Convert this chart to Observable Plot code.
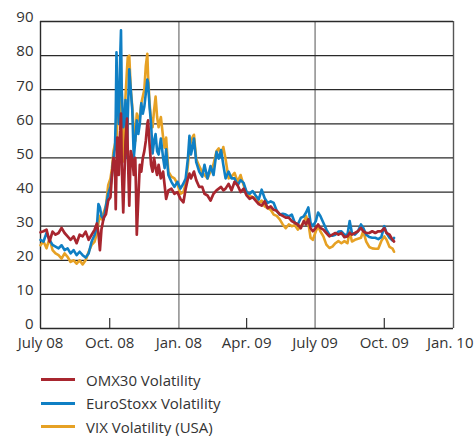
<!DOCTYPE html>
<html><head><meta charset="utf-8">
<script src="https://cdn.jsdelivr.net/npm/d3@7"></script>
<script src="https://cdn.jsdelivr.net/npm/@observablehq/plot@0.6"></script>
<style>
body{margin:0;background:#fff;font-family:"Open Sans",sans-serif;color:#333}
#legend{padding-top:16px}
.row{display:flex;align-items:center;height:23.5px;font-size:15px;color:#333}
.sw{width:34px;height:3px;margin-left:41px;margin-right:11px}
</style></head><body>
<div id="chart"></div><div id="legend"></div>
<script>
const dates = [
"2008-07-01","2008-07-05","2008-07-09","2008-07-13","2008-07-17","2008-07-21","2008-07-25","2008-07-29",
"2008-08-02","2008-08-06","2008-08-10","2008-08-14","2008-08-18","2008-08-22","2008-08-26","2008-08-30",
"2008-09-03","2008-09-07","2008-09-11","2008-09-14","2008-09-16","2008-09-18","2008-09-20","2008-09-23","2008-09-26","2008-09-29",
"2008-10-02","2008-10-04","2008-10-06","2008-10-08","2008-10-09","2008-10-10","2008-10-11","2008-10-13","2008-10-14","2008-10-15","2008-10-16","2008-10-17","2008-10-19","2008-10-21","2008-10-22","2008-10-24","2008-10-25","2008-10-27","2008-10-29","2008-10-31",
"2008-11-02","2008-11-04","2008-11-05","2008-11-06","2008-11-08","2008-11-10","2008-11-12","2008-11-14","2008-11-16","2008-11-18","2008-11-20","2008-11-21","2008-11-23","2008-11-25","2008-11-27","2008-11-29",
"2008-12-01","2008-12-03","2008-12-05","2008-12-08","2008-12-11","2008-12-13","2008-12-15","2008-12-18","2008-12-22","2008-12-26","2008-12-30",
"2009-01-03","2009-01-07","2009-01-10","2009-01-13","2009-01-15","2009-01-17","2009-01-19","2009-01-21","2009-01-24","2009-01-28",
"2009-02-01","2009-02-04","2009-02-08","2009-02-12","2009-02-16","2009-02-20","2009-02-23","2009-02-26",
"2009-03-01","2009-03-04","2009-03-08","2009-03-12","2009-03-16","2009-03-20","2009-03-24","2009-03-28",
"2009-04-01","2009-04-05","2009-04-09","2009-04-13","2009-04-17","2009-04-21","2009-04-25","2009-04-29",
"2009-05-03","2009-05-07","2009-05-11","2009-05-15","2009-05-19","2009-05-23","2009-05-27","2009-05-31",
"2009-06-04","2009-06-08","2009-06-12","2009-06-16","2009-06-19","2009-06-22","2009-06-25","2009-06-28",
"2009-07-02","2009-07-05","2009-07-08","2009-07-12","2009-07-16","2009-07-20","2009-07-24","2009-07-28",
"2009-08-01","2009-08-05","2009-08-09","2009-08-13","2009-08-16","2009-08-19","2009-08-23","2009-08-27","2009-08-31",
"2009-09-03","2009-09-07","2009-09-11","2009-09-15","2009-09-19","2009-09-23","2009-09-27",
"2009-10-01","2009-10-04","2009-10-08","2009-10-12","2009-10-14"];

const omx30 = [
28.2,28.5,29,25.5,28.4,27.5,28,29.5,
28,27,26,27,25,27.5,27,28.4,
26,27.5,29,30.8,28,23,29,32.5,33.5,37.5,
38.5,45,50,48,35,47,56,45,55,58,63,48,34,48,55,61.5,52,36,52,50,
45,50,40,27.5,38,48,46,50,52,55,60,61,54,48,46,50,
47,45,48,44,46,42,38,40.5,41,39.5,40,
38,37,41,44,45.4,44,45,46,43.5,41.5,
41.5,39.5,39,37.5,39.5,40.5,41,41.5,
40.5,41,42.4,40.5,43,42,40,41,
39,38,38.5,37.5,36.5,36,37.3,35.3,
35.8,34.8,34.5,33.5,33,32.5,32.5,31.5,
31,30.5,29.4,31.5,30.5,32,29.4,28.5,
29.5,30.5,29.5,29,28,27,27.5,28,
27.5,28,26.8,27,28,27.5,28,28.5,29.5,
28.5,28,28,28.5,28,28.5,28.5,
29.4,28,27.5,26,25.5];

const euroStoxx = [
26,25.5,28,26,24.5,24,23.5,24.4,
23,23.5,22,23,21.5,22.5,21.5,20.8,
22,25.5,27.5,30,36.5,35.5,33,32,36,39.5,
41.5,45,50,53,62,81,70,60,70,80,87.4,70,59,62,67,50,62,76,70,64,
50,55,58,61,57,60,66,63,65,69,73,72,65,60,51.3,55,
57,52,51,55.7,50,47,52.5,45,43,41.5,43,
41,42.5,44,50,56.5,51,53,55.7,48.8,46,
44.5,48,44,47.6,45,51.8,49.8,52.3,
48,44,46,44,44,42,43.5,42.7,
40,39.5,40.3,39,37.8,40.7,38.2,36.8,
37.3,36.8,34.5,33.4,33.6,33.4,32.9,33.4,
31,30.5,32.4,32.9,34,35.5,31,30,
31.5,34,33,31,29,27.5,27.2,27.5,
28.4,28.5,27.5,27.5,31.5,28,27.5,28.5,30.5,
29.5,27.5,26.8,26.6,26.6,26.2,26.8,
30,28,26.6,25.8,26.6];

const vix = [
24.4,25.5,23.5,26.4,23,22,21.5,20.5,
22,21,19.5,20,19,20,18.8,20,
22.5,24.5,25.5,28,31,33,32,34,36,42,
44,47,52,54,55,55,60,66,62,60,68,55,49,63,68,76,79.5,80,70,65,
58,55,60,63,61,62,66,68,70,77,80.5,74,66,61,59,64,
68,62,59,62,56,53,56,46,44.5,44,42.5,
39.5,40,42.5,48,53,55,56,56.8,49.7,47.6,
45.8,45,44,46,48.2,52,52.8,50.7,
53.2,49.7,44,44.6,45.6,43,45,42,
40,38.9,38.5,38.2,36.8,37.5,35.8,35.3,
34.8,33.4,33,32,30.5,29.4,30.5,30,
30.3,29,30,31,33,31,26.6,26,
28.5,30,28.5,27,24.6,23.6,24,25,
25.6,25,25.6,25,28.4,25.5,26,26.3,26.6,
28.5,25.5,23.9,23.5,23.4,23.4,25.6,
27,26,23.9,23.4,22.5];

const seriesNames = ["OMX30 Volatility", "EuroStoxx Volatility", "VIX Volatility (USA)"];
const seriesColors = ["#a8262f", "#0f7fc4", "#e6a124"];

const xTickDates = ["2008-07-01","2008-10-01","2009-01-01","2009-04-01","2009-07-01","2009-10-01","2010-01-01"];
const xTickLabels = ["July 08","Oct. 08","Jan. 08","Apr. 09","July 09","Oct. 09","Jan. 10"];
const xGridDates = ["2009-01-01","2009-07-01"];
const xMinorDates = ["2008-10-01","2009-04-01","2009-10-01"];
const yTicks = [0,10,20,30,40,50,60,70,80,90];

const P = s => new Date(s + "T00:00:00Z");
const rows = dates.map((d, i) => ({date: P(d), omx: omx30[i], euro: euroStoxx[i], vix: vix[i]}));
const xStart = P(xTickDates[0]), xEnd = P(xTickDates[xTickDates.length - 1]);
const nT = xTickDates.length;

const mT = 21, mB = 24, H = 352;
const chart = Plot.plot({
  width: 474, height: H,
  marginLeft: 40, marginRight: 21, marginTop: mT, marginBottom: mB,
  style: {fontFamily: "'Open Sans', sans-serif", fontSize: "15px", color: "#333", background: "#fff", overflow: "visible"},
  x: {type: "time", domain: [xStart, xEnd], axis: null},
  y: {domain: [0, 90], axis: null},
  marks: [
    Plot.ruleX(xGridDates.map(P), {x: d => d, stroke: "#7a7a7a", strokeWidth: 1.3}),
    Plot.ruleX([xEnd], {x: d => d, stroke: "#555", strokeWidth: 1.4}),
    Plot.ruleX(xMinorDates.map(P), {x: d => d, stroke: "#333", strokeWidth: 1.2, insetTop: (H - mT - mB) - 10}),
    Plot.ruleY(yTicks, {y: d => d, stroke: "#2a2a2a", strokeWidth: 1.3}),
    Plot.ruleX([xStart], {x: d => d, stroke: "#2a2a2a", strokeWidth: 1.4}),
    Plot.lineY(rows, {x: "date", y: "vix", stroke: seriesColors[2], strokeWidth: 2.6}),
    Plot.lineY(rows, {x: "date", y: "euro", stroke: seriesColors[1], strokeWidth: 2.6}),
    Plot.lineY(rows, {x: "date", y: "omx", stroke: seriesColors[0], strokeWidth: 2.7}),
    Plot.text(yTicks, {y: d => d, text: d => String(d), frameAnchor: "left", textAnchor: "end", dx: -7, dy: -4, fill: "#333", fontSize: 15}),
    Plot.text(xTickDates.slice(0, nT - 1).map(P), {x: d => d, text: (d, i) => xTickLabels[i], frameAnchor: "bottom", dy: 19, fill: "#333", fontSize: 15}),
    Plot.text([P(xTickDates[nT - 1])], {x: d => d, text: () => xTickLabels[nT - 1], frameAnchor: "bottom", textAnchor: "end", dx: 20, dy: 19, fill: "#333", fontSize: 15})
  ]
});
document.getElementById("chart").appendChild(chart);

const legend = document.getElementById("legend");
seriesNames.forEach((name, i) => {
  const row = document.createElement("div");
  row.className = "row";
  const sw = document.createElement("span");
  sw.className = "sw";
  sw.style.background = seriesColors[i];
  const t = document.createElement("span");
  t.textContent = name;
  row.appendChild(sw); row.appendChild(t);
  legend.appendChild(row);
});
</script>
</body></html>
